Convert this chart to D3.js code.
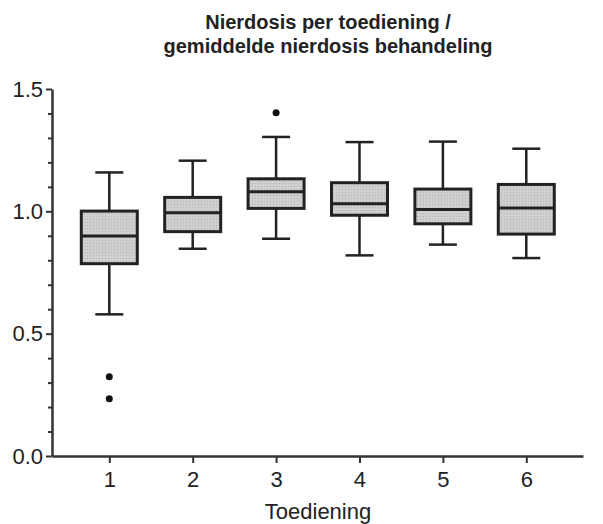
<!DOCTYPE html>
<html>
<head>
<meta charset="utf-8">
<script src="https://cdn.jsdelivr.net/npm/d3@7"></script>
<style>
  body { margin: 0; background: #fff; }
  text { font-family: "Liberation Sans", Arial, sans-serif; fill: #222; }
</style>
</head>
<body>
<script>
// Data
let groups = [1, 2, 3, 4, 5, 6];
let whiskerLow = [0.579, 0.847, 0.888, 0.820, 0.864, 0.809];
let q1 = [0.786, 0.917, 1.012, 0.984, 0.949, 0.907];
let median = [0.899, 0.994, 1.080, 1.031, 1.008, 1.014];
let q3 = [1.001, 1.057, 1.133, 1.117, 1.091, 1.110];
let whiskerHigh = [1.159, 1.207, 1.304, 1.283, 1.285, 1.256];
let outlierGroup = [1, 1, 3];
let outlierValue = [0.324, 0.234, 1.403];
let yTicks = [0, 0.5, 1.0, 1.5];
let yMinorTicks = [0.1, 0.2, 0.3, 0.4, 0.6, 0.7, 0.8, 0.9, 1.1, 1.2, 1.3, 1.4];

let width = 603;
let height = 524;
let margin = { top: 89, bottom: 68, left: 52, right: 20 };
let axisColor = "#333";

let svg = d3.select("body")
  .append("svg")
  .attr("width", width)
  .attr("height", height);

// dotted grey fill like the original
let defs = svg.append("defs");
let pat = defs.append("pattern")
  .attr("id", "dots")
  .attr("width", 3)
  .attr("height", 3)
  .attr("patternUnits", "userSpaceOnUse");
pat.append("rect").attr("width", 3).attr("height", 3).attr("fill", "#cfcfcf");
pat.append("rect").attr("width", 1).attr("height", 1).attr("fill", "#b4b4b4");

let xScale = d3.scaleLinear()
  .domain([0.313, 6.68])
  .range([margin.left, width - margin.right]);

let yScale = d3.scaleLinear()
  .domain([0, 1.5])
  .range([height - margin.bottom, margin.top]);

// Title
let title = svg.append("text")
  .attr("x", 328)
  .attr("text-anchor", "middle")
  .style("font-size", "20px")
  .style("font-weight", "bold");
title.append("tspan").attr("x", 328).attr("y", 29).text("Nierdosis per toediening /");
title.append("tspan").attr("x", 328).attr("y", 53).text("gemiddelde nierdosis behandeling");

// Boxes
let data = groups.map((g, i) => ({
  g: g, lo: whiskerLow[i], q1: q1[i], med: median[i], q3: q3[i], hi: whiskerHigh[i]
}));

let boxW = 56;
let capW = 28;

let box = svg.selectAll(".box")
  .data(data)
  .enter().append("g")
  .attr("class", "box");

// whisker lines
box.append("line")
  .attr("x1", d => xScale(d.g)).attr("x2", d => xScale(d.g))
  .attr("y1", d => yScale(d.lo)).attr("y2", d => yScale(d.q1))
  .attr("stroke", "#222").attr("stroke-width", 2.5);
box.append("line")
  .attr("x1", d => xScale(d.g)).attr("x2", d => xScale(d.g))
  .attr("y1", d => yScale(d.q3)).attr("y2", d => yScale(d.hi))
  .attr("stroke", "#222").attr("stroke-width", 2.5);
// caps
box.append("line")
  .attr("x1", d => xScale(d.g) - capW / 2).attr("x2", d => xScale(d.g) + capW / 2)
  .attr("y1", d => yScale(d.lo)).attr("y2", d => yScale(d.lo))
  .attr("stroke", "#222").attr("stroke-width", 2.5);
box.append("line")
  .attr("x1", d => xScale(d.g) - capW / 2).attr("x2", d => xScale(d.g) + capW / 2)
  .attr("y1", d => yScale(d.hi)).attr("y2", d => yScale(d.hi))
  .attr("stroke", "#222").attr("stroke-width", 2.5);
// box
box.append("rect")
  .attr("x", d => xScale(d.g) - boxW / 2)
  .attr("y", d => yScale(d.q3))
  .attr("width", boxW)
  .attr("height", d => yScale(d.q1) - yScale(d.q3))
  .attr("fill", "url(#dots)")
  .attr("stroke", "#222")
  .attr("stroke-width", 3);
// median
box.append("line")
  .attr("x1", d => xScale(d.g) - boxW / 2).attr("x2", d => xScale(d.g) + boxW / 2)
  .attr("y1", d => yScale(d.med)).attr("y2", d => yScale(d.med))
  .attr("stroke", "#222").attr("stroke-width", 3);

// outliers
svg.selectAll(".outlier")
  .data(outlierValue)
  .enter().append("circle")
  .attr("class", "outlier")
  .attr("cx", (d, i) => xScale(outlierGroup[i]))
  .attr("cy", d => yScale(d))
  .attr("r", 3.5)
  .attr("fill", "#111");

// Y axis: minor ticks then major ticks
let yMinor = svg.append("g")
  .attr("transform", `translate(${margin.left}, 0)`)
  .call(d3.axisLeft(yScale).tickValues(yMinorTicks).tickSize(4).tickFormat(""));
yMinor.select(".domain").remove();
yMinor.selectAll("line").attr("stroke", axisColor).attr("stroke-width", 2);

let yAxis = svg.append("g")
  .attr("transform", `translate(${margin.left}, 0)`)
  .call(d3.axisLeft(yScale).tickValues(yTicks).tickSize(6).tickSizeOuter(0).tickPadding(3)
    .tickFormat(d3.format(".1f")));
yAxis.select(".domain").attr("stroke", axisColor).attr("stroke-width", 2.5);
yAxis.selectAll(".tick line").attr("stroke", axisColor).attr("stroke-width", 2);
yAxis.selectAll("text").style("font-size", "22px").attr("fill", "#222")
  .style("font-family", "'Liberation Sans', Arial, sans-serif");

// X axis
let xAxis = svg.append("g")
  .attr("transform", `translate(0, ${height - margin.bottom})`)
  .call(d3.axisBottom(xScale).tickValues(groups).tickSize(7).tickSizeOuter(0).tickPadding(8)
    .tickFormat(d3.format("d")));
xAxis.select(".domain").attr("stroke", axisColor).attr("stroke-width", 2.5);
xAxis.selectAll(".tick line").attr("stroke", axisColor).attr("stroke-width", 2);
xAxis.selectAll("text").style("font-size", "22px").attr("fill", "#222")
  .style("font-family", "'Liberation Sans', Arial, sans-serif");

// X axis label
svg.append("text")
  .attr("x", 318)
  .attr("y", 519)
  .attr("text-anchor", "middle")
  .style("font-size", "22px")
  .text("Toediening");
</script>
</body>
</html>
